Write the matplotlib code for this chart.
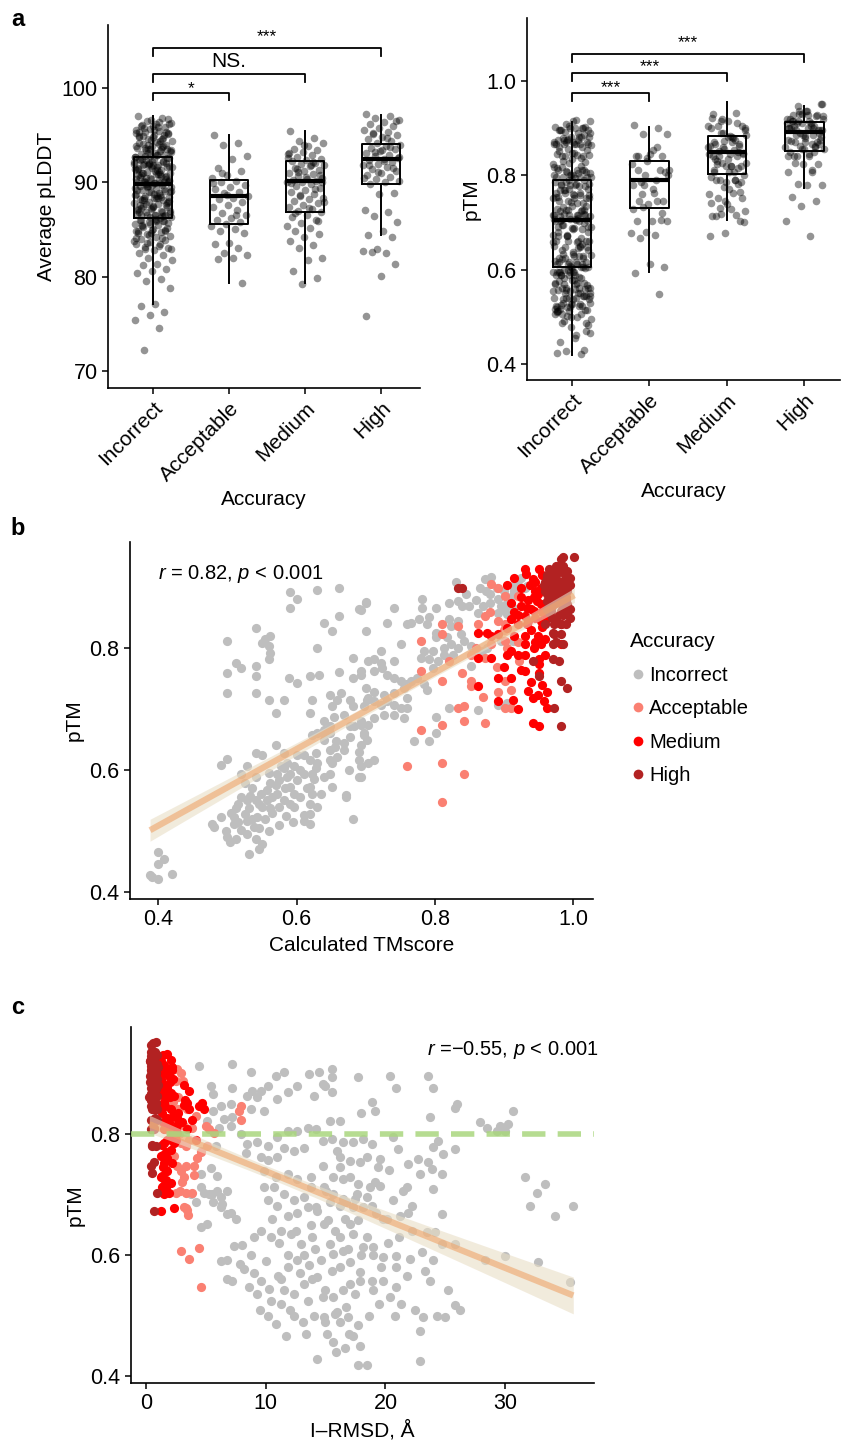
import numpy as np
import matplotlib.pyplot as plt
from matplotlib.lines import Line2D

plt.rcParams['font.family'] = ['Liberation Sans', 'DejaVu Sans']
plt.rcParams['mathtext.fontset'] = 'custom'
plt.rcParams['mathtext.rm'] = 'Liberation Sans'
plt.rcParams['mathtext.it'] = 'Liberation Sans:italic'

categories = ['Incorrect', 'Acceptable', 'Medium', 'High']
cat_colors = ['#BEBEBE', '#FA8072', '#FF0000', '#B22222']

# ---- panel a: average pLDDT per accuracy class
plddt_incorrect = [
    97.0, 96.8, 96.5, 96.3, 96.2, 96.0, 95.9, 95.7, 95.6, 95.5, 95.3, 95.2, 95.0, 94.9, 94.7,
    94.6, 94.4, 94.3, 94.1, 94.0, 93.9, 93.7, 93.6, 93.4, 93.3, 93.1, 93.0, 92.9, 92.8, 92.7,
    96.4, 95.8, 95.1, 94.8, 94.2, 93.8, 93.5, 93.2, 92.9, 96.1, 95.4, 94.5, 93.9, 93.3, 92.8,
    92.6, 92.5, 92.4, 92.3, 92.1, 92.0, 91.9, 91.8, 91.6, 91.5, 91.4, 91.3, 91.1, 91.0, 90.9,
    90.8, 90.6, 90.5, 90.4, 90.3, 90.1, 90.0, 89.9, 92.5, 92.2, 91.9, 91.6, 91.3, 91.0, 90.7,
    90.4, 90.1, 89.9, 92.4, 91.7, 91.2, 90.6, 90.0, 92.0, 91.4, 90.9, 90.2, 92.6, 91.8, 90.8,
    89.7, 89.6, 89.5, 89.3, 89.2, 89.1, 89.0, 88.8, 88.7, 88.6, 88.5, 88.3, 88.2, 88.1, 87.9,
    87.8, 87.7, 87.5, 87.4, 87.3, 87.1, 87.0, 86.9, 86.8, 86.6, 86.5, 86.4, 86.3, 89.4, 88.9,
    88.4, 87.9, 87.4, 86.9, 86.4, 89.6, 89.1, 88.6, 88.1, 87.6, 87.2, 86.7, 86.2, 89.8, 88.0,
    86.1, 86.0, 85.9, 85.8, 85.6, 85.5, 85.3, 85.2, 85.0, 84.9, 84.7, 84.5, 84.3, 84.2, 84.0,
    83.9, 83.7, 83.5, 83.3, 83.2, 83.0, 82.8, 82.5, 82.3, 82.0, 81.8, 81.3, 81.2, 80.8, 80.6,
    80.4, 79.8, 79.6, 78.8, 77.1, 76.9, 76.3, 75.9, 75.4, 74.6, 72.2, 85.7, 85.1, 84.6, 84.1,
    83.6, 82.9, 86.0, 85.4, 84.8, 96.6, 95.2, 94.4, 93.7, 90.3, 88.8, 87.6, 85.9, 84.4, 83.8,
    95.9, 94.9, 93.6, 92.3, 91.5, 90.7, 89.5, 89.0, 88.3, 87.3, 86.6, 85.6, 84.9, 94.1, 92.0,
    96.7, 96.0, 95.3, 94.6, 94.0, 93.4, 92.9, 92.5, 92.1, 91.7, 91.3, 90.9, 90.5, 90.2, 89.9,
    89.6, 89.3, 89.0, 88.7, 88.4, 88.1, 87.8, 87.5, 87.2, 86.9, 86.6, 86.3, 85.9, 85.5, 85.0,
    84.6, 84.1, 83.5, 82.9, 96.2, 95.6, 94.8, 93.9, 93.1, 92.2, 91.6, 91.0, 90.4, 89.7, 89.2,
    88.5, 87.7, 87.0, 86.5, 86.0, 95.0, 93.5, 92.7, 91.1, 90.0,
]
plddt_acceptable = [
    95.0, 94.2, 94.0, 92.8, 92.5, 91.5, 91.2, 90.8, 90.5, 90.2, 90.0, 89.7, 89.5, 89.3, 89.0,
    88.9, 88.6, 88.4, 88.2, 87.9, 87.6, 87.4, 87.1, 86.8, 86.5, 86.2, 86.0, 85.8, 85.6, 85.4,
    85.1, 84.8, 84.6, 83.6, 83.5, 83.0, 82.5, 82.3, 82.0, 81.9, 79.3, 88.7, 89.9, 86.6, 91.0,
]
plddt_medium = [
    95.5, 94.7, 94.4, 94.2, 93.9, 93.6, 93.4, 93.2, 93.0, 92.9, 92.7, 92.5, 92.4, 92.3, 92.1,
    92.0, 91.8, 91.7, 91.5, 91.3, 91.2, 91.0, 90.9, 90.7, 90.5, 90.4, 90.3, 90.2, 90.1, 90.0,
    89.8, 89.6, 89.4, 89.2, 89.0, 88.8, 88.6, 88.4, 88.2, 88.0, 87.8, 87.6, 87.4, 87.2, 87.0,
    86.9, 86.6, 86.3, 86.0, 85.7, 85.4, 85.2, 84.9, 84.5, 84.2, 83.8, 83.4, 83.0, 82.0, 81.8,
    80.6, 79.9, 79.2, 92.6, 91.9, 91.4, 90.8, 90.6, 89.9, 89.3, 88.7, 87.9, 87.3, 86.8, 85.9,
    94.0, 93.1, 92.2, 91.1, 90.0,
]
plddt_high = [
    97.3, 97.0, 96.8, 96.6, 96.4, 96.2, 96.0, 95.8, 95.6, 95.4, 95.2, 95.0, 94.8, 94.6, 94.4,
    94.2, 94.0, 93.9, 93.7, 93.5, 93.3, 93.1, 92.9, 92.8, 92.6, 92.5, 92.4, 92.2, 92.0, 91.8,
    91.6, 91.4, 91.2, 91.0, 90.8, 90.6, 90.4, 90.2, 90.0, 89.8, 88.9, 88.8, 87.1, 86.9, 86.4,
    85.8, 84.9, 84.4, 84.2, 82.9, 82.7, 82.5, 82.6, 81.3, 80.1, 75.8, 93.8, 93.2, 92.7, 92.3,
    91.9, 91.5, 91.1, 90.5, 94.7, 95.1, 96.5, 93.4,
]

# box statistics (q1, median, q3, whisker low, whisker high)
plddt_q1 = [86.2, 85.55, 86.9, 89.8]
plddt_med = [89.8, 88.6, 90.2, 92.45]
plddt_q3 = [92.7, 90.3, 92.25, 94.05]
plddt_lo = [77.1, 79.35, 79.3, 84.4]
plddt_hi = [97.05, 95.05, 95.5, 97.15]

ptm_q1 = [0.606, 0.731, 0.803, 0.852]
ptm_med = [0.704, 0.789, 0.850, 0.891]
ptm_q3 = [0.789, 0.830, 0.883, 0.912]
ptm_lo = [0.418, 0.594, 0.706, 0.773]
ptm_hi = [0.912, 0.903, 0.955, 0.947]

# ---- panel b: (calculated TMscore, pTM)
b_incorrect = [
    (0.391, 0.424), (0.400, 0.421), (0.388, 0.427), (0.400, 0.465), (0.408, 0.454), (0.400, 0.446),
    (0.420, 0.429), (0.478, 0.512), (0.480, 0.506), (0.490, 0.523), (0.500, 0.490), (0.504, 0.482),
    (0.512, 0.537), (0.509, 0.512), (0.509, 0.523), (0.519, 0.501), (0.528, 0.495), (0.531, 0.462),
    (0.538, 0.506), (0.541, 0.487), (0.550, 0.479), (0.543, 0.523), (0.541, 0.550), (0.528, 0.550),
    (0.531, 0.537), (0.526, 0.578), (0.519, 0.594), (0.528, 0.606), (0.541, 0.589), (0.550, 0.539),
    (0.557, 0.550), (0.562, 0.537), (0.557, 0.567), (0.562, 0.578), (0.572, 0.594), (0.574, 0.583),
    (0.572, 0.561), (0.582, 0.550), (0.584, 0.570), (0.586, 0.589), (0.582, 0.603), (0.591, 0.594),
    (0.591, 0.572), (0.596, 0.561), (0.601, 0.583), (0.596, 0.606), (0.611, 0.594), (0.620, 0.617),
    (0.628, 0.628), (0.630, 0.611), (0.623, 0.594), (0.620, 0.572), (0.623, 0.561), (0.620, 0.545),
    (0.620, 0.528), (0.620, 0.512), (0.611, 0.526), (0.630, 0.539), (0.635, 0.561), (0.640, 0.589),
    (0.649, 0.594), (0.652, 0.572), (0.649, 0.617), (0.640, 0.650), (0.640, 0.661), (0.649, 0.633),
    (0.657, 0.647), (0.669, 0.633), (0.678, 0.672), (0.678, 0.655), (0.683, 0.672), (0.690, 0.630),
    (0.690, 0.617), (0.690, 0.589), (0.671, 0.559), (0.681, 0.520), (0.698, 0.661), (0.702, 0.650),
    (0.591, 0.892), (0.601, 0.881), (0.591, 0.867), (0.630, 0.896), (0.661, 0.899), (0.700, 0.876),
    (0.690, 0.865), (0.640, 0.842), (0.652, 0.829), (0.661, 0.853), (0.541, 0.834), (0.555, 0.815),
    (0.562, 0.820), (0.550, 0.809), (0.560, 0.804), (0.562, 0.793), (0.560, 0.782), (0.500, 0.812),
    (0.630, 0.801), (0.681, 0.785), (0.512, 0.776), (0.519, 0.768), (0.541, 0.771), (0.500, 0.760),
    (0.541, 0.754), (0.500, 0.727), (0.541, 0.727), (0.560, 0.716), (0.582, 0.716), (0.570, 0.694),
    (0.589, 0.751), (0.601, 0.743), (0.620, 0.754), (0.632, 0.757), (0.661, 0.762), (0.681, 0.751),
    (0.693, 0.757), (0.649, 0.724), (0.664, 0.727), (0.659, 0.716), (0.678, 0.716), (0.623, 0.716),
    (0.620, 0.694), (0.652, 0.705), (0.654, 0.688), (0.640, 0.680), (0.640, 0.666), (0.649, 0.672),
    (0.669, 0.691), (0.681, 0.705), (0.698, 0.705), (0.702, 0.716), (0.490, 0.608), (0.500, 0.619),
    (0.541, 0.628), (0.550, 0.625), (0.570, 0.641), (0.582, 0.628), (0.601, 0.625), (0.611, 0.625),
    (0.630, 0.661), (0.623, 0.658), (0.652, 0.611), (0.659, 0.622), (0.649, 0.661), (0.628, 0.604),
    (0.586, 0.611), (0.578, 0.606), (0.565, 0.556), (0.545, 0.545), (0.533, 0.558), (0.528, 0.517),
    (0.515, 0.545), (0.596, 0.540), (0.611, 0.516), (0.669, 0.645), (0.676, 0.600), (0.694, 0.680),
    (0.655, 0.638), (0.671, 0.556), (0.703, 0.611),
    (0.700, 0.875), (0.693, 0.864), (0.741, 0.867), (0.731, 0.841), (0.700, 0.828), (0.782, 0.881),
    (0.782, 0.867), (0.802, 0.867), (0.760, 0.840), (0.765, 0.842), (0.777, 0.848), (0.792, 0.851),
    (0.789, 0.840), (0.802, 0.826), (0.802, 0.818), (0.821, 0.875), (0.833, 0.878), (0.840, 0.870),
    (0.821, 0.848), (0.833, 0.845), (0.823, 0.837), (0.831, 0.909), (0.872, 0.914), (0.881, 0.917),
    (0.874, 0.895), (0.913, 0.903), (0.930, 0.900), (0.934, 0.903), (0.891, 0.881), (0.905, 0.875),
    (0.913, 0.867), (0.896, 0.870), (0.862, 0.859), (0.891, 0.859), (0.905, 0.856), (0.838, 0.823),
    (0.843, 0.812), (0.818, 0.818), (0.823, 0.807), (0.814, 0.801), (0.797, 0.796), (0.785, 0.796),
    (0.780, 0.785), (0.792, 0.782), (0.804, 0.779), (0.797, 0.768), (0.814, 0.790), (0.826, 0.790),
    (0.833, 0.801), (0.852, 0.804), (0.857, 0.796), (0.869, 0.796), (0.876, 0.801), (0.896, 0.812),
    (0.913, 0.812), (0.751, 0.807), (0.722, 0.796), (0.712, 0.782), (0.703, 0.779), (0.722, 0.776),
    (0.741, 0.779), (0.693, 0.763), (0.712, 0.763), (0.724, 0.768), (0.731, 0.757), (0.741, 0.752),
    (0.751, 0.746), (0.760, 0.741), (0.765, 0.746), (0.775, 0.752), (0.785, 0.741), (0.789, 0.732),
    (0.756, 0.735), (0.700, 0.735), (0.712, 0.729), (0.727, 0.724), (0.741, 0.727), (0.731, 0.713),
    (0.722, 0.707), (0.712, 0.713), (0.703, 0.718), (0.741, 0.707), (0.751, 0.702), (0.760, 0.702),
    (0.760, 0.718), (0.741, 0.691), (0.756, 0.685), (0.727, 0.691), (0.712, 0.685), (0.703, 0.674),
    (0.693, 0.674), (0.698, 0.658), (0.693, 0.641), (0.712, 0.617), (0.693, 0.606), (0.693, 0.589),
    (0.770, 0.647), (0.792, 0.647), (0.802, 0.661), (0.802, 0.688), (0.821, 0.702), (0.862, 0.699),
    (0.852, 0.771), (0.891, 0.707), (0.905, 0.710),
    (0.505, 0.530), (0.515, 0.515), (0.525, 0.528), (0.535, 0.520), (0.545, 0.505), (0.555, 0.520),
    (0.565, 0.530), (0.575, 0.540), (0.585, 0.525), (0.595, 0.515), (0.605, 0.555), (0.615, 0.570),
    (0.625, 0.585), (0.535, 0.570), (0.548, 0.560), (0.560, 0.595), (0.570, 0.575), (0.590, 0.545),
    (0.605, 0.600), (0.520, 0.555), (0.498, 0.500), (0.512, 0.486), (0.545, 0.470), (0.560, 0.500),
    (0.575, 0.510), (0.860, 0.880), (0.870, 0.870), (0.880, 0.890), (0.890, 0.900), (0.900, 0.895),
    (0.910, 0.885), (0.920, 0.905), (0.850, 0.870), (0.845, 0.890), (0.900, 0.865), (0.915, 0.895),
    (0.925, 0.915), (0.880, 0.875), (0.865, 0.900),
]
b_acceptable = [
    (0.881, 0.906), (0.891, 0.900), (0.901, 0.887), (0.920, 0.887), (0.872, 0.853), (0.862, 0.840),
    (0.811, 0.840), (0.833, 0.837), (0.811, 0.823), (0.852, 0.790), (0.872, 0.785), (0.881, 0.807),
    (0.891, 0.845), (0.901, 0.840), (0.901, 0.812), (0.905, 0.801), (0.780, 0.812), (0.780, 0.763),
    (0.811, 0.746), (0.852, 0.746), (0.852, 0.738), (0.891, 0.729), (0.901, 0.746), (0.910, 0.732),
    (0.901, 0.702), (0.910, 0.702), (0.833, 0.702), (0.843, 0.705), (0.843, 0.680), (0.872, 0.677),
    (0.811, 0.674), (0.780, 0.666), (0.760, 0.606), (0.811, 0.611), (0.843, 0.593), (0.811, 0.548),
    (0.922, 0.779), (0.860, 0.800), (0.890, 0.770), (0.920, 0.810), (0.870, 0.720), (0.900, 0.830),
    (0.820, 0.780), (0.880, 0.860), (0.840, 0.760),
]
b_medium = [
    (0.932, 0.922), (0.951, 0.931), (0.942, 0.914), (0.954, 0.900), (0.944, 0.884), (0.934, 0.867),
    (0.944, 0.862), (0.954, 0.873), (0.961, 0.862), (0.930, 0.853), (0.963, 0.851), (0.910, 0.848),
    (0.905, 0.834), (0.920, 0.840), (0.934, 0.840), (0.862, 0.826), (0.876, 0.826), (0.881, 0.820),
    (0.891, 0.823), (0.862, 0.785), (0.881, 0.785), (0.910, 0.796), (0.920, 0.790), (0.930, 0.790),
    (0.944, 0.801), (0.954, 0.807), (0.930, 0.807), (0.951, 0.782), (0.951, 0.774), (0.951, 0.760),
    (0.930, 0.763), (0.891, 0.752), (0.910, 0.752), (0.862, 0.738), (0.891, 0.713), (0.913, 0.716),
    (0.942, 0.718), (0.949, 0.724), (0.963, 0.729), (0.958, 0.713), (0.963, 0.702), (0.942, 0.677),
    (0.951, 0.672), (0.983, 0.807), (0.983, 0.840), (0.954, 0.845), (0.935, 0.880), (0.925, 0.870),
    (0.945, 0.850), (0.955, 0.860), (0.915, 0.860), (0.960, 0.870), (0.940, 0.830), (0.950, 0.820),
    (0.930, 0.820), (0.925, 0.900), (0.910, 0.875), (0.965, 0.890), (0.945, 0.895), (0.935, 0.845),
    (0.955, 0.835), (0.940, 0.865), (0.920, 0.855), (0.960, 0.845), (0.948, 0.878), (0.938, 0.905),
    (0.905, 0.905), (0.915, 0.915), (0.930, 0.930), (0.945, 0.910), (0.955, 0.920), (0.925, 0.885),
    (0.915, 0.820), (0.905, 0.790), (0.925, 0.765), (0.940, 0.745), (0.955, 0.740), (0.960, 0.790),
    (0.935, 0.730), (0.920, 0.700), (0.900, 0.770), (0.945, 0.810), (0.960, 0.815), (0.950, 0.890),
    (0.965, 0.905), (0.970, 0.880),
]
b_high = [
    (0.833, 0.900), (0.840, 0.900), (0.983, 0.947), (1.002, 0.951), (0.973, 0.928), (0.983, 0.928),
    (0.992, 0.928), (0.968, 0.911), (0.978, 0.911), (0.987, 0.911), (0.992, 0.895), (0.973, 0.895),
    (0.983, 0.884), (0.992, 0.873), (0.968, 0.862), (0.983, 0.862), (0.992, 0.856), (0.973, 0.840),
    (0.983, 0.840), (0.973, 0.823), (0.983, 0.823), (0.971, 0.807), (0.985, 0.807), (0.971, 0.782),
    (0.980, 0.779), (0.942, 0.779), (0.951, 0.754), (0.983, 0.746), (0.992, 0.735), (0.973, 0.702),
    (0.983, 0.672), (0.971, 0.826), (0.963, 0.889), (0.963, 0.878), (0.963, 0.920), (0.958, 0.905),
    (0.965, 0.930), (0.975, 0.920), (0.985, 0.900), (0.990, 0.915), (0.970, 0.870), (0.980, 0.855),
    (0.990, 0.840), (0.975, 0.810), (0.960, 0.840), (0.990, 0.880), (0.985, 0.935), (0.970, 0.900),
    (0.965, 0.860), (0.980, 0.890), (0.990, 0.860), (0.975, 0.845), (0.992, 0.870), (0.962, 0.865),
    (0.985, 0.855), (0.970, 0.900), (0.990, 0.885), (0.995, 0.915), (0.960, 0.895), (0.975, 0.935),
    (0.962, 0.915), (0.968, 0.925), (0.978, 0.930), (0.988, 0.920), (0.995, 0.905), (0.965, 0.885),
    (0.975, 0.875), (0.985, 0.870), (0.995, 0.850), (0.970, 0.850), (0.980, 0.935), (0.990, 0.925),
    (0.965, 0.915), (0.978, 0.905), (0.990, 0.895), (0.972, 0.885), (0.982, 0.875), (0.995, 0.865),
    (0.960, 0.910), (0.985, 0.950),
]

# ---- panel c: I-RMSD (angstrom); the pTM of the three correct classes is the same as in panel b
c_incorrect = [
    (4.45, 0.912), (5.43, 0.879), (5.57, 0.865), (7.23, 0.915), (8.77, 0.901), (7.23, 0.876),
    (10.85, 0.895), (11.55, 0.901), (13.63, 0.898), (14.47, 0.901), (14.75, 0.882), (14.05, 0.863),
    (12.66, 0.879), (11.83, 0.868), (10.99, 0.857), (10.16, 0.879), (9.60, 0.871), (8.90, 0.871),
    (8.49, 0.863), (9.32, 0.860), (9.88, 0.838), (8.77, 0.841), (7.10, 0.849), (6.26, 0.846),
    (5.57, 0.838), (6.12, 0.810), (7.23, 0.827), (7.10, 0.813), (7.93, 0.799), (8.49, 0.783),
    (8.35, 0.769), (9.32, 0.786), (10.16, 0.780), (10.99, 0.794), (11.83, 0.805), (12.66, 0.805),
    (13.50, 0.810), (14.19, 0.808), (14.75, 0.788), (13.22, 0.777), (12.38, 0.772), (11.55, 0.777),
    (10.99, 0.761), (10.16, 0.756), (9.60, 0.761), (9.88, 0.739), (10.85, 0.728), (11.83, 0.733),
    (12.66, 0.725), (13.77, 0.728), (14.75, 0.747), (14.89, 0.712), (13.77, 0.712), (13.22, 0.695),
    (12.38, 0.690), (11.55, 0.701), (10.71, 0.712), (9.88, 0.712), (10.16, 0.690), (10.99, 0.681),
    (11.83, 0.665), (12.66, 0.670), (13.50, 0.679), (14.33, 0.673), (14.89, 0.651), (13.91, 0.629),
    (12.94, 0.618), (12.10, 0.635), (11.27, 0.640), (10.43, 0.629), (9.60, 0.640), (9.04, 0.629),
    (8.07, 0.616), (6.82, 0.591), (8.21, 0.577), (7.23, 0.558), (8.63, 0.547), (9.60, 0.558),
    (10.30, 0.544), (11.27, 0.561), (11.83, 0.580), (12.66, 0.591), (13.63, 0.583), (14.61, 0.591),
    (14.33, 0.563), (13.22, 0.553), (12.38, 0.536), (11.55, 0.542), (10.43, 0.525), (9.32, 0.536),
    (12.38, 0.500), (10.85, 0.487), (13.50, 0.525), (14.75, 0.531), (14.89, 0.498), (4.59, 0.646),
    (5.15, 0.651), (4.17, 0.687), (3.76, 0.701), (4.87, 0.703), (5.29, 0.701), (5.98, 0.706),
    (6.26, 0.695), (6.82, 0.706), (6.40, 0.684), (7.10, 0.670), (7.51, 0.659), (4.59, 0.712),
    (5.43, 0.744), (5.98, 0.731), (4.59, 0.733), (5.84, 0.780), (4.59, 0.772), (5.15, 0.821),
    (6.54, 0.824), (5.50, 0.700), (5.65, 0.687), (6.30, 0.680), (6.75, 0.667), (6.30, 0.590),
    (6.75, 0.560), (7.40, 0.615), (7.90, 0.585), (11.70, 0.466),
    (15.50, 0.906), (15.50, 0.893), (14.94, 0.879), (15.50, 0.868), (15.36, 0.821), (16.19, 0.821),
    (17.72, 0.893), (20.37, 0.895), (20.92, 0.876), (23.57, 0.895), (23.98, 0.876), (18.00, 0.835),
    (18.84, 0.852), (19.12, 0.838), (23.71, 0.827), (25.93, 0.849), (25.79, 0.843), (27.88, 0.819),
    (28.44, 0.810), (29.55, 0.813), (30.24, 0.816), (30.66, 0.838), (29.97, 0.805), (29.27, 0.805),
    (15.50, 0.791), (16.47, 0.786), (17.31, 0.786), (15.92, 0.772), (16.19, 0.761), (18.14, 0.791),
    (18.84, 0.783), (18.42, 0.761), (19.53, 0.758), (19.39, 0.745), (17.86, 0.753), (17.03, 0.755),
    (16.19, 0.745), (20.65, 0.794), (21.06, 0.775), (21.90, 0.750), (22.73, 0.758), (23.57, 0.753),
    (22.87, 0.734), (23.85, 0.742), (24.68, 0.734), (24.82, 0.766), (23.98, 0.778), (24.40, 0.788),
    (25.79, 0.775), (15.64, 0.728), (16.47, 0.725), (17.03, 0.728), (17.72, 0.717), (18.70, 0.712),
    (19.53, 0.714), (18.42, 0.695), (17.45, 0.692), (16.47, 0.692), (15.64, 0.701), (15.08, 0.706),
    (15.36, 0.687), (16.19, 0.681), (16.75, 0.687), (17.31, 0.679), (18.14, 0.679), (18.84, 0.681),
    (19.25, 0.670), (20.09, 0.660), (21.20, 0.665), (22.18, 0.681), (21.90, 0.670), (21.48, 0.706),
    (21.76, 0.712), (23.98, 0.709), (24.68, 0.668), (23.43, 0.638), (24.12, 0.638), (24.68, 0.618),
    (25.79, 0.618), (28.30, 0.591), (29.97, 0.599), (32.75, 0.588), (35.39, 0.555), (31.64, 0.728),
    (33.31, 0.717), (32.61, 0.703), (32.05, 0.681), (34.14, 0.665), (35.67, 0.681), (15.22, 0.657),
    (17.03, 0.651), (17.72, 0.657), (17.31, 0.635), (18.42, 0.629), (16.19, 0.629), (15.36, 0.618),
    (15.64, 0.602), (16.47, 0.607), (18.14, 0.613), (18.98, 0.613), (19.81, 0.596), (20.92, 0.599),
    (22.04, 0.594), (23.01, 0.605), (23.98, 0.591), (19.67, 0.580), (18.84, 0.558), (17.86, 0.572),
    (17.03, 0.588), (16.19, 0.580), (15.50, 0.574), (14.94, 0.542), (15.64, 0.531), (16.47, 0.542),
    (17.03, 0.553), (17.86, 0.558), (19.81, 0.558), (20.92, 0.580), (21.76, 0.566), (23.29, 0.574),
    (23.71, 0.558), (20.92, 0.547), (18.98, 0.542), (17.45, 0.536), (16.75, 0.514), (15.92, 0.506),
    (14.94, 0.489), (15.78, 0.503), (16.89, 0.498), (17.72, 0.484), (17.31, 0.467), (15.64, 0.457),
    (16.61, 0.446), (14.25, 0.429), (17.72, 0.418), (18.42, 0.418), (22.87, 0.426), (22.45, 0.509),
    (23.15, 0.498), (24.26, 0.500), (24.96, 0.498), (25.24, 0.542), (26.21, 0.509), (25.79, 0.517),
    (10.50, 0.660), (11.10, 0.620), (11.90, 0.600), (12.50, 0.640), (13.20, 0.600), (13.80, 0.650),
    (14.10, 0.610), (12.90, 0.570), (13.90, 0.560), (11.00, 0.565), (10.00, 0.590), (9.00, 0.570),
    (8.80, 0.600), (9.50, 0.510), (10.20, 0.500), (11.30, 0.520), (12.00, 0.510), (13.10, 0.490),
    (14.00, 0.500), (15.10, 0.470), (16.20, 0.490), (17.00, 0.470), (18.60, 0.500), (19.50, 0.520),
    (20.40, 0.530), (21.30, 0.520), (19.00, 0.600), (20.20, 0.620), (21.10, 0.630), (22.20, 0.640),
    (19.80, 0.660), (20.60, 0.690), (18.00, 0.600), (16.90, 0.610), (15.80, 0.640), (16.60, 0.660),
    (17.60, 0.700), (19.10, 0.720), (20.30, 0.740), (14.20, 0.680),
    (13.40, 0.470), (15.90, 0.440), (17.90, 0.450), (20.80, 0.500), (22.90, 0.475),
]
# I-RMSD of each model in b_acceptable / b_medium / b_high, same order
c_acceptable_rmsd = [
    2.64, 2.92, 2.50, 3.10, 2.30, 3.48, 2.09, 7.79, 7.93, 3.62,
    2.92, 5.29, 7.93, 2.70, 5.01, 5.70, 3.20, 2.37, 3.34, 4.04,
    2.92, 3.20, 2.64, 4.04, 2.50, 3.34, 3.90, 2.87, 3.20, 3.40,
    3.48, 3.50, 2.92, 4.45, 3.62, 4.59, 3.34, 2.80, 4.59, 3.90,
    3.00, 4.20, 5.15, 2.70, 4.30,
]
c_medium_rmsd = [
    2.09, 1.81, 1.53, 1.67, 1.39, 2.09, 1.81, 1.39, 2.37, 1.53,
    3.48, 3.20, 1.39, 3.62, 2.09, 1.81, 2.64, 2.92, 3.90, 1.53,
    2.37, 2.09, 1.81, 4.17, 2.64, 1.53, 3.48, 1.39, 2.09, 1.81,
    1.25, 1.53, 2.20, 1.81, 1.39, 1.53, 2.09, 1.67, 1.30, 1.70,
    1.90, 2.37, 1.25, 2.50, 4.87, 4.45, 1.30, 1.65, 4.73, 2.00,
    1.60, 3.62, 2.30, 1.45, 3.00, 1.20, 1.75, 2.30, 1.90, 1.25,
    2.70, 1.30, 3.30, 1.60, 1.45, 2.20, 1.60, 1.20, 1.45, 2.20,
    1.25, 2.00, 1.90, 2.20, 1.40, 1.40, 1.70, 2.50, 1.35, 1.50,
    1.65, 1.90, 2.60, 1.30, 1.75, 3.20,
]
c_high_rmsd = [
    0.55, 0.80, 0.42, 0.84, 0.60, 0.45, 0.75, 0.42, 0.70, 0.90,
    0.56, 0.35, 0.65, 0.84, 0.50, 0.97, 0.42, 0.84, 0.60, 0.42,
    0.97, 0.70, 0.42, 0.56, 0.84, 0.55, 0.70, 0.40, 0.56, 0.97,
    0.70, 0.75, 0.50, 0.90, 0.70, 0.45, 0.60, 0.35, 0.85, 0.65,
    0.60, 0.45, 0.50, 0.65, 0.90, 1.00, 0.80, 0.55, 0.30, 0.95,
    0.75, 0.40, 0.62, 0.48, 0.72, 0.88, 0.38, 0.66, 0.52, 0.44,
    0.78, 0.58, 0.92, 0.36, 0.68, 0.82, 0.46, 0.54, 0.74, 0.86,
    0.64, 0.50, 0.94, 0.40, 0.60, 0.80, 0.70, 0.46, 1.02, 0.62,
]

b_sets = [np.array(s) for s in (b_incorrect, b_acceptable, b_medium, b_high)]
c_sets = [np.array(c_incorrect)] + [
    np.column_stack([r, b[:, 1]])
    for r, b in zip((c_acceptable_rmsd, c_medium_rmsd, c_high_rmsd), b_sets[1:])]
plddt_sets = [plddt_incorrect, plddt_acceptable, plddt_medium, plddt_high]
ptm_sets = [s[:, 1] for s in b_sets]

fig = plt.figure(figsize=(8.41, 14.44), dpi=100)
W, H = 841, 1444


def add_ax(x0, y0, x1, y1):
    # pixel box -> figure fraction
    return fig.add_axes([x0 / W, 1 - y1 / H, (x1 - x0) / W, (y1 - y0) / H])


def style(ax):
    for s in ('top', 'right'):
        ax.spines[s].set_visible(False)
    for s in ('left', 'bottom'):
        ax.spines[s].set_linewidth(1.2)
    ax.tick_params(direction='out', length=4, width=1.1, labelsize=15.5, colors='black')


def strip_box(ax, sets, q1, med, q3, lo, hi):
    for i, vals in enumerate(sets):
        n = len(vals)
        offs = ((np.arange(n) * 0.618034 + 0.11) % 1 - 0.5) * 0.5
        ax.scatter(i + offs, vals, s=30, color='black', alpha=0.42, linewidths=0, zorder=2)
    stats = [dict(q1=q1[i], med=med[i], q3=q3[i], whislo=lo[i], whishi=hi[i], fliers=[])
             for i in range(len(sets))]
    ax.bxp(stats, positions=range(len(sets)), widths=0.5, showfliers=False, showcaps=False,
           boxprops=dict(color='black', lw=1.4), whiskerprops=dict(color='black', lw=1.4),
           medianprops=dict(color='black', lw=3), zorder=3)
    ax.set_xticks(range(len(categories)))
    ax.set_xticklabels(categories, rotation=45, ha='right', va='top', rotation_mode='anchor',
                       fontsize=15)
    ax.set_xlabel('Accuracy', fontsize=15)


def bracket(ax, x1, x2, y, tip, label, fs, ty):
    ax.plot([x1, x1, x2, x2], [y - tip, y, y, y - tip], color='black', lw=1.3, clip_on=False)
    ax.text((x1 + x2) / 2, ty, label, ha='center', va='center', fontsize=fs)


# ---- panel a, left
ax1 = add_ax(108, 25, 420, 388)
strip_box(ax1, plddt_sets, plddt_q1, plddt_med, plddt_q3, plddt_lo, plddt_hi)
ax1.set_xlim(-0.59, 3.51)
ax1.set_ylim(68.2, 106.7)
ax1.set_yticks([70, 80, 90, 100])
ax1.set_ylabel('Average pLDDT', fontsize=15)
style(ax1)
ax1.tick_params(axis='x', labelsize=15)
bracket(ax1, 0, 3, 104.3, 0.9, '***', 12.5, 105.5)
bracket(ax1, 0, 2, 101.5, 0.8, 'NS.', 15, 102.8)
bracket(ax1, 0, 1, 99.5, 0.8, '*', 12.5, 100.0)

# ---- panel a, right
ax2 = add_ax(527, 18, 840, 380)
strip_box(ax2, ptm_sets, ptm_q1, ptm_med, ptm_q3, ptm_lo, ptm_hi)
ax2.set_xlim(-0.58, 3.46)
ax2.set_ylim(0.366, 1.133)
ax2.set_yticks([0.4, 0.6, 0.8, 1.0])
ax2.set_yticklabels(['0.4', '0.6', '0.8', '1.0'])
ax2.set_ylabel('pTM', fontsize=15)
style(ax2)
ax2.tick_params(axis='x', labelsize=15)
bracket(ax2, 0, 3, 1.056, 0.017, '***', 12.5, 1.080)
bracket(ax2, 0, 2, 1.016, 0.017, '***', 12.5, 1.030)
bracket(ax2, 0, 1, 0.974, 0.017, '***', 12.5, 0.986)


def fit_band(ax, x, y, xs):
    # ordinary least squares with a 95% confidence band
    n = len(x)
    slope, icpt = np.polyfit(x, y, 1)
    resid = y - (slope * x + icpt)
    s = np.sqrt(np.sum(resid ** 2) / (n - 2))
    sxx = np.sum((x - x.mean()) ** 2)
    yfit = slope * xs + icpt
    se = s * np.sqrt(1 / n + (xs - x.mean()) ** 2 / sxx)
    ax.fill_between(xs, yfit - 1.97 * se, yfit + 1.97 * se, color='#E9DEC6', alpha=0.6,
                    lw=0, zorder=4)
    ax.plot(xs, yfit, color='#EFA46A', lw=4.5, alpha=0.6, zorder=5, solid_capstyle='butt')


# ---- panel b
ax3 = add_ax(130, 542, 593, 899)
for k, pts in enumerate(b_sets):
    ax3.scatter(pts[:, 0], pts[:, 1], s=44, color=cat_colors[k], linewidths=0, zorder=3)
bx = np.concatenate([p[:, 0] for p in b_sets])
by = np.concatenate([p[:, 1] for p in b_sets])
fit_band(ax3, bx, by, np.linspace(bx.min(), bx.max(), 50))
ax3.set_xlim(0.359, 1.029)
ax3.set_ylim(0.388, 0.975)
ax3.set_xticks([0.4, 0.6, 0.8, 1.0])
ax3.set_xticklabels(['0.4', '0.6', '0.8', '1.0'])
ax3.set_yticks([0.4, 0.6, 0.8])
ax3.set_xlabel('Calculated TMscore', fontsize=15)
ax3.set_ylabel('pTM', fontsize=15)
style(ax3)
ax3.text(0.4, 0.923, r'$r$ = 0.82, $p$ < 0.001', fontsize=14.5, ha='left', va='center')

handles = [Line2D([], [], marker='o', ls='', color=c, markersize=7, markeredgewidth=0)
           for c in cat_colors]
leg = fig.legend(handles, categories, loc='upper left', bbox_to_anchor=(612 / W, 1 - 614 / H),
                 frameon=False, title='Accuracy', fontsize=14.5, title_fontsize=15,
                 handlelength=0.8, handletextpad=0.15, labelspacing=0.72, alignment='left')

# ---- panel c
ax4 = add_ax(131, 1027, 594, 1383)
for k, pts in enumerate(c_sets):
    ax4.scatter(pts[:, 0], pts[:, 1], s=44, color=cat_colors[k], linewidths=0, zorder=3)
cx = np.concatenate([p[:, 0] for p in c_sets])
cy = np.concatenate([p[:, 1] for p in c_sets])
fit_band(ax4, cx, cy, np.linspace(cx.min(), cx.max(), 50))
ax4.axhline(0.8, color='#A9D67E', lw=4, alpha=0.85, ls=(0, (4.2, 2.2)), zorder=6)
ax4.set_xlim(-1.23, 37.4)
ax4.set_ylim(0.389, 0.976)
ax4.set_xticks([0, 10, 20, 30])
ax4.set_yticks([0.4, 0.6, 0.8])
ax4.set_xlabel('I\u2013RMSD, \u00c5', fontsize=15)
ax4.set_ylabel('pTM', fontsize=15)
style(ax4)
ax4.text(37.75, 0.938, '$r$ =\u22120.55, $p$ < 0.001', fontsize=14.5, ha='right', va='center')

for lab, (px, py) in zip('abc', [(18, 20), (18, 528), (18, 1008)]):
    fig.text(px / W, 1 - py / H, lab, fontsize=17, fontweight='bold', ha='center', va='center')

fig.savefig('out.png', dpi=100)
